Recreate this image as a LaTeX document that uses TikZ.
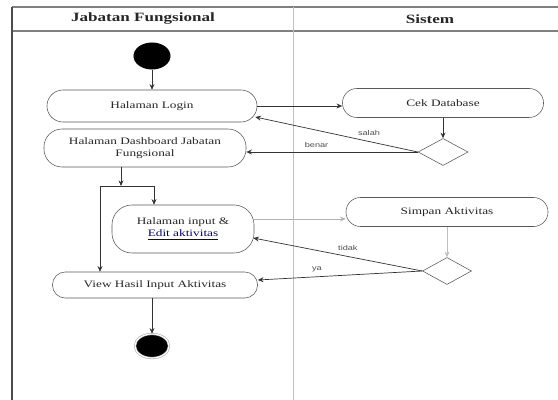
\documentclass[tikz,border=0pt]{standalone}
\usepackage{fontspec}
\setmainfont[FakeStretch=1.35]{Liberation Serif}
\newfontfamily\lblfont[FakeStretch=1.3]{Liberation Sans}
\usetikzlibrary{arrows.meta}
\usetikzlibrary{shapes.geometric}
\usetikzlibrary{calc}

\tikzset{
	actv/.style={draw=gray!70!black, rounded corners=0.3cm, align=center, text=black!85,
		font=\fontsize{7}{8.5}\selectfont, inner sep=2pt},
	decision/.style={draw=gray!70!black, diamond, inner sep=0pt},
	startnode/.style={ellipse, fill=black, inner sep=0pt, minimum width=0.925cm, minimum height=0.675cm},
	endnode/.style={ellipse, fill=black, draw=gray!70, double=white, double distance=0.8pt,
		inner sep=0pt, minimum width=0.85cm, minimum height=0.6cm},
	flow/.style={-{Stealth[length=4pt,width=3.5pt]}, draw=black!80, line width=0.5pt},
	lbl/.style={font=\lblfont\fontsize{5}{6}\selectfont, text=black!70, inner sep=1pt},
	lanehead/.style={font=\bfseries\fontsize{9}{10}\selectfont, text=black!85},
}

\begin{document}
\begin{tikzpicture}[x=0.025cm, y=-0.025cm]
	\useasboundingbox (0,0) rectangle (558,400);

	% swimlanes
	\draw[gray, line width=0.8pt] (12,7) -- (558,7);
	\draw[gray, line width=0.8pt] (12,31) -- (558,31);
	\draw[gray!60!black, line width=1.2pt] (12,7) -- (12,400);
	\draw[gray!50] (293,7) -- (293,400);
	\node[lanehead] (lane1) at (143,19) {Jabatan Fungsional};
	\node[lanehead] (lane2) at (430,19) {Sistem};

	% activities
	\node[startnode] (start) at (152,56) {};
	\node[actv, minimum width=5.25cm, minimum height=0.8cm, rounded corners=0.4cm] (login) at (152,106) {Halaman Login};
	\node[actv, minimum width=5.05cm, minimum height=0.95cm, rounded corners=0.45cm] (dash) at (145,148) {Halaman Dashboard Jabatan\\Fungsional};
	\node[actv, minimum width=5.025cm, minimum height=0.725cm, rounded corners=0.36cm] (cek) at (443,103) {Cek Database};
	\node[decision, minimum width=1.25cm, minimum height=0.675cm] (dec1) at (443,152) {};
	\node[actv, minimum width=3.55cm, minimum height=1.2cm, rounded corners=0.5cm] (input) at (183,229) {Halaman input \&\\{\color{blue!50!black}\underline{Edit\ aktivitas}}};
	\node[actv, minimum width=5.05cm, minimum height=0.725cm, rounded corners=0.36cm] (simpan) at (447,212) {Simpan Aktivitas};
	\node[decision, minimum width=1.225cm, minimum height=0.675cm] (dec2) at (447,271) {};
	\node[actv, minimum width=5.125cm, minimum height=0.65cm, rounded corners=0.32cm] (view) at (155,285) {View Hasil Input Aktivitas};
	\node[endnode] (end) at (152,346) {};

	\coordinate (fork) at (121,186);
	\coordinate (forkL) at (100,186);
	\coordinate (forkR) at (154,186);
	\coordinate (inputR) at ($(input.east)+(0,-10)$);

	% flows
	\draw[flow] (start) -- (login);
	\draw[flow] (login.east) -- (login.east -| cek.west);
	\draw[flow] (cek) -- (dec1);
	\draw[flow] (dec1.west) -- node[lbl, pos=0.3, above=3pt] {salah} ($(login.east)+(-2,11)$);
	\draw[flow] (dec1.west) -- node[lbl, pos=0.59, above=2pt] {benar} (dec1.west -| dash.east);
	\draw[flow] (dash.south -| fork) -- (fork);
	\draw[black!80] (forkL) -- (forkR);
	\draw[flow] (forkR) -- (forkR |- input.north);
	\draw[flow] (forkL) -- (forkL |- view.north);
	\draw[flow, draw=gray!60] (inputR) -- (inputR -| simpan.west);
	\draw[flow, draw=gray!50] (simpan) -- (dec2);
	\draw[flow] (dec2.west) -- node[lbl, pos=0.44, above=3pt] {tidak} ($(input.east)+(-1,9)$);
	\draw[flow] (dec2.west) -- node[lbl, pos=0.64, above=2pt] {ya} ($(view.east)+(0,-5)$);
	\draw[flow] (view.south -| end) -- (end);
\end{tikzpicture}
\end{document}
